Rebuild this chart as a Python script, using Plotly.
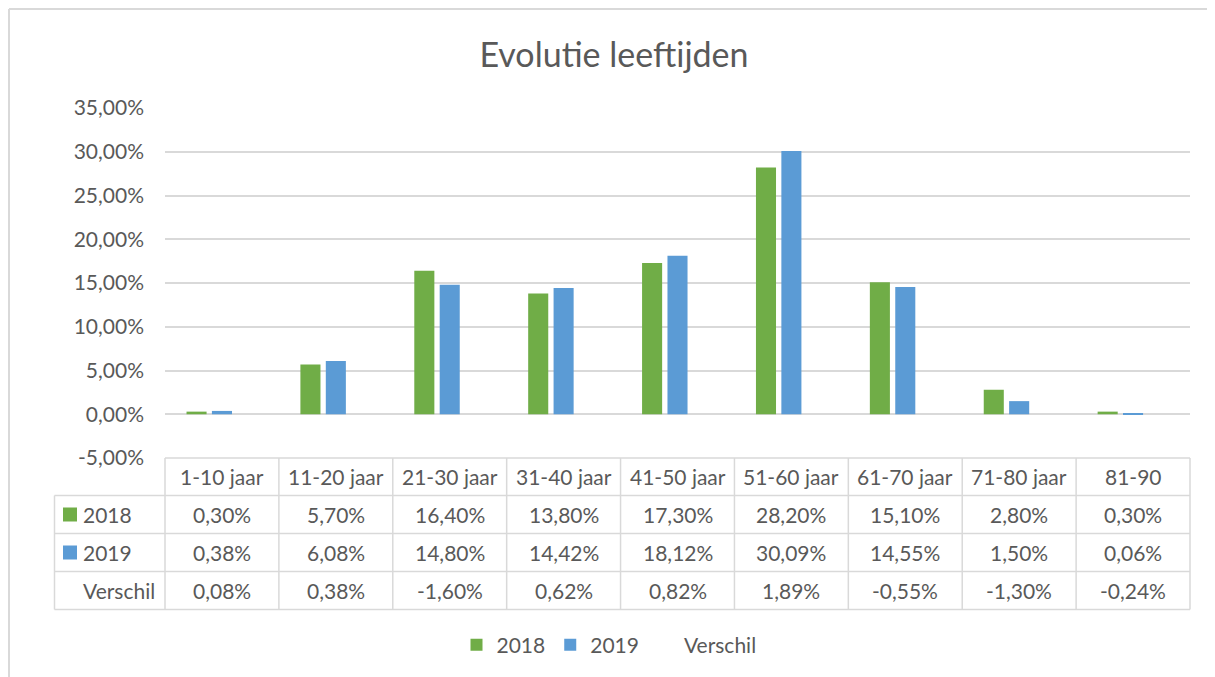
import plotly.graph_objects as go

categories = ["1-10 jaar", "11-20 jaar", "21-30 jaar", "31-40 jaar", "41-50 jaar",
              "51-60 jaar", "61-70 jaar", "71-80 jaar", "81-90"]
v2018 = [0.30, 5.70, 16.40, 13.80, 17.30, 28.20, 15.10, 2.80, 0.30]
v2019 = [0.38, 6.08, 14.80, 14.42, 18.12, 30.09, 14.55, 1.50, 0.06]
verschil = [0.08, 0.38, -1.60, 0.62, 0.82, 1.89, -0.55, -1.30, -0.24]
series_names = ["2018", "2019", "Verschil"]
tick_vals = [-5, 0, 5, 10, 15, 20, 25, 30, 35]

GREEN = "#70AD47"
BLUE = "#5B9BD5"
TXT = "#595959"
GRID = "#D9D9D9"
FONT = "Lato"
FS = 21

OFF = 8  # page body margin
SW, SH = 1215, 677  # screen size
W, H = SW - OFF, SH - OFF
# plot area in screen pixels: x 165..1190, y 108..458
L, R, T, B = 165 - OFF, SW - 1190, 108 - OFF, SH - 458
PW, PH = W - L - R, H - T - B


def px_x(p):  # screen pixel x -> paper
    return (p - OFF - L) / PW


def px_y(p):  # screen pixel y -> paper
    return (H - B - (p - OFF)) / PH


n = len(categories)
x_range = [-0.5, n - 0.5]


def cat_x(i):  # category position -> paper, via axis range
    return (i - x_range[0]) / (x_range[1] - x_range[0])


def fmt(v):
    return f"{v:.2f}%".replace(".", ",")


fig = go.Figure()
fig.add_trace(go.Bar(x=categories, y=v2018, name=series_names[0], marker=dict(color=GREEN, line_width=0)))
fig.add_trace(go.Bar(x=categories, y=v2019, name=series_names[1], marker=dict(color=BLUE, line_width=0)))
fig.add_trace(go.Bar(x=categories, y=verschil, name=series_names[2],
                     marker=dict(color="rgba(0,0,0,0)", line_width=0)))

shapes = []
annotations = []
line = dict(color=GRID, width=1.5)

row_edges = [458, 495.5, 533.5, 571.5, 609.5]
table_left = 54.5

shapes.append(dict(type="line", xref="paper", yref="paper", x0=cat_x(-0.5), x1=cat_x(n - 0.5),
                   y0=px_y(row_edges[0]), y1=px_y(row_edges[0]), line=line))
for ry in row_edges[1:]:
    shapes.append(dict(type="line", xref="paper", yref="paper", x0=px_x(table_left), x1=cat_x(n - 0.5),
                       y0=px_y(ry), y1=px_y(ry), line=line))
shapes.append(dict(type="line", xref="paper", yref="paper", x0=px_x(table_left), x1=px_x(table_left),
                   y0=px_y(row_edges[1]), y1=px_y(row_edges[-1]), line=line))
for i in range(n + 1):
    xb = cat_x(i - 0.5)
    shapes.append(dict(type="line", xref="paper", yref="paper", x0=xb, x1=xb,
                       y0=px_y(row_edges[0]), y1=px_y(row_edges[-1]), line=line))

for i, c in enumerate(categories):
    annotations.append(dict(x=cat_x(i), y=px_y((row_edges[0] + row_edges[1]) / 2), xref="paper", yref="paper",
                            text=c, showarrow=False, xanchor="center", yanchor="middle",
                            font=dict(family=FONT, size=FS, color=TXT)))

rows = [(series_names[0], v2018, GREEN), (series_names[1], v2019, BLUE), (series_names[2], verschil, None)]
for r, (name, vals, col) in enumerate(rows):
    yc = px_y((row_edges[r + 1] + row_edges[r + 2]) / 2)
    annotations.append(dict(x=px_x(81), y=yc, xref="paper", yref="paper", text=name, showarrow=False,
                            xanchor="left", yanchor="middle", font=dict(family=FONT, size=FS, color=TXT)))
    if col:
        shapes.append(dict(type="rect", xref="paper", yref="paper", x0=px_x(63), x1=px_x(77),
                           y0=yc - 7 / PH, y1=yc + 7 / PH, fillcolor=col, line_width=0))
    for i, v in enumerate(vals):
        annotations.append(dict(x=cat_x(i), y=yc, xref="paper", yref="paper", text=fmt(v), showarrow=False,
                                xanchor="center", yanchor="middle", font=dict(family=FONT, size=FS, color=TXT)))

shapes.append(dict(type="line", xref="paper", yref="paper", x0=px_x(9), x1=px_x(SW + 5), y0=px_y(9), y1=px_y(9),
                   line=dict(color=GRID, width=2)))
shapes.append(dict(type="line", xref="paper", yref="paper", x0=px_x(9), x1=px_x(9), y0=px_y(9), y1=px_y(SH + 5),
                   line=dict(color=GRID, width=2)))

fig.update_layout(
    width=W, height=H,
    margin=dict(l=L, r=R, t=T, b=B, autoexpand=False),
    paper_bgcolor="white", plot_bgcolor="white",
    barmode="group", bargap=0.331, bargroupgap=0.21,
    title=dict(text="Evolutie leeftijden", x=(614 - OFF) / W, xanchor="center", xref="container",
               y=1 - (55 - OFF) / H, yanchor="middle", yref="container",
               font=dict(family=FONT, size=34, color=TXT)),
    font=dict(family=FONT, size=FS, color=TXT),
    xaxis=dict(range=x_range, showticklabels=False, showgrid=False, zeroline=False, showline=False,
               fixedrange=True),
    yaxis=dict(range=[tick_vals[0], tick_vals[-1]], tickvals=tick_vals, ticktext=[fmt(v) for v in tick_vals],
               showgrid=True, gridcolor=GRID, gridwidth=1.5, zeroline=False, showline=False,
               ticks="", ticklabelstandoff=20, tickfont=dict(family=FONT, size=FS, color=TXT)),
    legend=dict(orientation="h", x=px_x(609), xanchor="center", y=px_y(645), yanchor="middle",
                font=dict(family=FONT, size=FS, color=TXT), traceorder="normal",
                itemclick=False, itemdoubleclick=False),
    shapes=shapes, annotations=annotations,
    showlegend=True,
)

fig.write_html("out.html")
